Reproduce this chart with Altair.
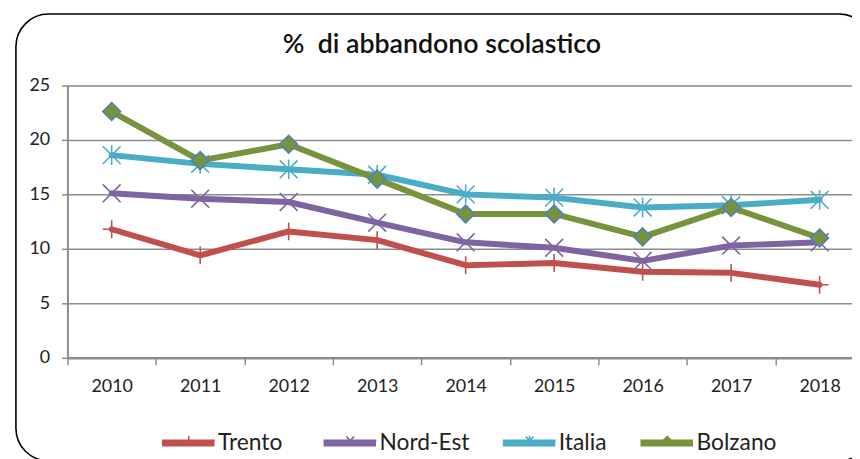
import altair as alt
import pandas as pd

years = [2010, 2011, 2012, 2013, 2014, 2015, 2016, 2017, 2018]
trento = [11.8, 9.4, 11.6, 10.8, 8.5, 8.7, 7.9, 7.8, 6.7]
nord_est = [15.1, 14.6, 14.3, 12.4, 10.6, 10.1, 8.9, 10.3, 10.6]
italia = [18.6, 17.8, 17.3, 16.8, 15.0, 14.7, 13.8, 14.0, 14.5]
bolzano = [22.6, 18.1, 19.6, 16.4, 13.2, 13.2, 11.1, 13.8, 11.0]

series_names = ["Trento", "Nord-Est", "Italia", "Bolzano"]
series_values = [trento, nord_est, italia, bolzano]
line_colors = ["#C0504D", "#8064A2", "#4BACC6", "#77933C"]
marker_strokes = ["#C0504D", "#8064A2", "#4BACC6", "#4F81BD"]
marker_fills = ["transparent", "transparent", "transparent", "#77933C"]

# marker shapes (unit paths) for the plot
plot_shapes = [
    "M-1,0L1,0M0,-1L0,1",
    "M-1,-1L1,1M-1,1L1,-1",
    "M-1,-1L1,1M-1,1L1,-1M0,-1.1L0,1.1",
    "M0,-1L1,0L0,1L-1,0Z",
]
# smaller marker shapes for the legend symbols (drawn in a 53px wide symbol);
# tiny end segments give every legend symbol the full symbol width
EXT = "M-1,0L-0.98,0M0.98,0L1,0"
legend_shapes = [
    EXT + "M0,-0.17L0,0.17",
    EXT + "M-0.15,-0.15L0.15,0.15M-0.15,0.15L0.15,-0.15",
    EXT + "M-0.15,-0.15L0.15,0.15M-0.15,0.15L0.15,-0.15M0,-0.18L0,0.18",
    EXT + "M0,-0.2L0.2,0L0,0.2L-0.2,0Z",
]
legend_x = [92, 255, 436, 575]
LEGEND_Y = 331
MARKER_DX = 3

FONT = "Lato, DejaVu Sans Condensed, sans-serif"
GRID = "#8C8C8C"

x_ticks = [2009.5 + 0.5 * i for i in range(18)]
x_scale = alt.Scale(domain=[2009.5, 2018.366], nice=False, zero=False)
y_scale = alt.Scale(domain=[0, 25], nice=False)

x_axis = alt.Axis(
    values=x_ticks,
    labelExpr="datum.value % 1 === 0 ? '' + datum.value : ''",
    labelOverlap=False, labelFlush=False,
    tickColor={"condition": {"test": "datum.value % 1 === 0", "value": "transparent"}, "value": GRID},
    tickSize=7, tickWidth=1.5,
    domainColor=GRID, domainWidth=2.5,
    grid=False, title=None,
    labelFont=FONT, labelFontSize=18, labelColor="#222", labelPadding=13,
)
y_axis = alt.Axis(
    values=[0, 5, 10, 15, 20, 25],
    grid=True, gridColor=GRID, gridWidth=1.5,
    domainColor=GRID, domainWidth=2,
    tickColor=GRID, tickSize=6, tickWidth=1.5,
    labelPadding=12, labelFont=FONT, labelFontSize=18, labelColor="#222",
    title=None,
)

rows = []
for name, vals in zip(series_names, series_values):
    for yr, v in zip(years, vals):
        rows.append({"year": yr, "value": v, "series": name})
df = pd.DataFrame(rows)

frame = alt.Chart(pd.DataFrame({"a": [0]})).mark_rect(
    cornerRadius=33, fillOpacity=0, stroke="black", strokeWidth=1.6
).encode(
    x=alt.value(-52), x2=alt.value(812), y=alt.value(-72), y2=alt.value(379)
)

X = alt.X("year:Q", scale=x_scale, axis=x_axis)
Y = alt.Y("value:Q", scale=y_scale, axis=y_axis)

layers = [frame]
for i, name in enumerate(series_names):
    d = df[df["series"] == name].assign(**{f"ln{i}": name, f"mk{i}": name})
    line = alt.Chart(d).mark_line(
        strokeWidth=6, strokeJoin="round", strokeCap="round"
    ).encode(
        x=X, y=Y,
        color=alt.Color(
            f"ln{i}:N",
            scale=alt.Scale(domain=[name], range=[line_colors[i]]),
            legend=alt.Legend(
                orient="none", legendX=legend_x[i], legendY=LEGEND_Y,
                title=None, symbolType="stroke", symbolSize=2809, symbolStrokeWidth=7,
                labelFont=FONT, labelFontSize=23, labelColor="#222", labelOffset=0,
            ),
        ),
    )
    filled = marker_fills[i] != "transparent"
    pts = alt.Chart(d).mark_point(
        shape=plot_shapes[i], size=324, strokeWidth=1.6, filled=filled,
        stroke=marker_strokes[i], fill=marker_fills[i],
    ).encode(
        x=X, y=Y,
        opacity=alt.Opacity(
            f"mk{i}:N",
            scale=alt.Scale(domain=[name], range=[1]),
            legend=alt.Legend(
                orient="none", legendX=legend_x[i] + MARKER_DX, legendY=LEGEND_Y,
                title=None, symbolType=legend_shapes[i], symbolSize=2809,
                symbolStrokeWidth=1.6, symbolStrokeColor=marker_strokes[i],
                symbolFillColor=marker_fills[i],
                labelExpr="''", labelFontSize=23, labelOffset=0,
            ),
        ),
    )
    layers += [line, pts]

chart = alt.layer(*layers).resolve_scale(
    color="independent", opacity="independent"
).properties(
    width=792, height=275,
    padding={"left": 60, "top": 76, "right": 0, "bottom": 100},
    autosize=alt.AutoSizeParams(type="none"),
    title=alt.TitleParams(
        "% \u00a0di abbandono scolastico", font=FONT, fontSize=27, fontWeight=600,
        color="#111", anchor="middle", frame="group", dx=-18, dy=67, offset=0,
        baseline="alphabetic",
    ),
).configure_view(strokeWidth=0).configure(background="white")

chart.save("out.html", embed_options={"renderer": "svg", "actions": False})
